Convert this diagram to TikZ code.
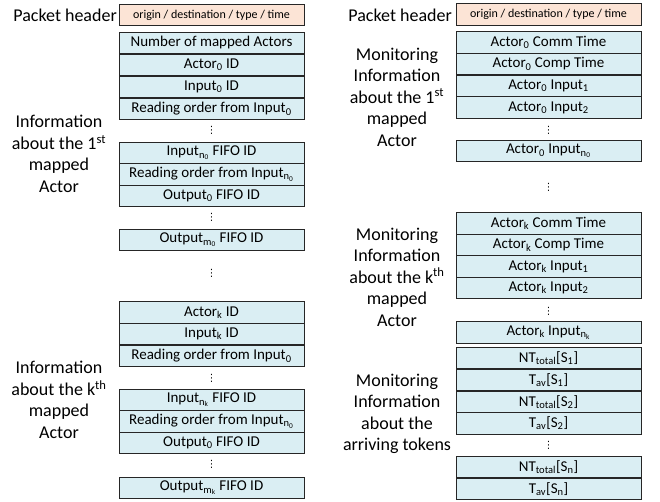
\documentclass[tikz,border=0pt]{standalone}
\usepackage{fontspec}
\setmainfont{Carlito}
\newfontfamily\dejavu{DejaVu Sans}
\definecolor{hdrfill}{HTML}{FCE4D6}
\definecolor{rowfill}{HTML}{DAEEF3}
\definecolor{edge}{HTML}{262626}
\newcommand{\sbs}[1]{\textsubscript{#1}}
\newcommand{\vdts}{{\dejavu ⋮}}
\begin{document}
\begin{tikzpicture}[x=1pt,y=-1pt,
  rowbox/.style={draw=edge, line width=0.9pt, fill=rowfill, minimum width=185pt, minimum height=21.7pt, inner sep=0pt, font=\fontsize{15}{17}\selectfont},
  hdrbox/.style={draw=edge, line width=0.9pt, fill=hdrfill, minimum width=185pt, minimum height=21.5pt, inner sep=0pt, font=\fontsize{12}{14}\selectfont},
  lbl/.style={align=center, inner sep=0pt, font=\fontsize{18}{21.5}\selectfont},
  vdot/.style={inner sep=0pt, font=\fontsize{10}{11}\selectfont}]
\useasboundingbox (0,0) rectangle (660,502);
\fill[white] (0,0) rectangle (660,502);
% ---------- left column ----------
\def\xl{211.5}
\node[lbl, anchor=east] (phL) at (117,15) {Packet header};
\node[hdrbox] (hL) at (\xl,15) {origin / destination / type / time};
\node[rowbox] (L1) at (\xl,43) {Number of mapped Actors};
\node[rowbox] (L2) at (\xl,65) {Actor\sbs{0} ID};
\node[rowbox] (L3) at (\xl,87) {Input\sbs{0} ID};
\node[rowbox] (L4) at (\xl,109) {Reading order from Input\sbs{0}};
\node[vdot] (dL1) at (\xl,130) {\vdts};
\node[rowbox] (L5) at (\xl,153) {Input\sbs{n\sbs{0}} FIFO ID};
\node[rowbox] (L6) at (\xl,174.5) {Reading order from Input\sbs{n\sbs{0}}};
\node[rowbox] (L7) at (\xl,196) {Output\sbs{0} FIFO ID};
\node[vdot] (dL2) at (\xl,217) {\vdts};
\node[rowbox] (L8) at (\xl,240) {Output\sbs{m\sbs{0}} FIFO ID};
\node[vdot] (dL3) at (\xl,273) {\vdts};
\node[rowbox] (L9) at (\xl,312.5) {Actor\sbs{k} ID};
\node[rowbox] (L10) at (\xl,334) {Input\sbs{k} ID};
\node[rowbox] (L11) at (\xl,356) {Reading order from Input\sbs{0}};
\node[vdot] (dL4) at (\xl,378) {\vdts};
\node[rowbox] (L12) at (\xl,400) {Input\sbs{n\sbs{k}} FIFO ID};
\node[rowbox] (L13) at (\xl,421.5) {Reading order from Input\sbs{n\sbs{0}}};
\node[rowbox] (L14) at (\xl,443) {Output\sbs{0} FIFO ID};
\node[vdot] (dL5) at (\xl,464) {\vdts};
\node[rowbox] (L15) at (\xl,488) {Output\sbs{m\sbs{k}} FIFO ID};
\node[lbl] (iL1) at (59,154) {Information\\about the 1\textsuperscript{st}\\mapped\\Actor};
\node[lbl] (iLk) at (59,400) {Information\\about the k\textsuperscript{th}\\mapped\\Actor};
% ---------- right column ----------
\def\xr{548.5}
\node[lbl, anchor=east] (phR) at (452,15) {Packet header};
\node[hdrbox] (hR) at (\xr,14.5) {origin / destination / type / time};
\node[rowbox] (R1) at (\xr,42.5) {Actor\sbs{0} Comm Time};
\node[rowbox] (R2) at (\xr,64) {Actor\sbs{0} Comp Time};
\node[rowbox] (R3) at (\xr,86) {Actor\sbs{0} Input\sbs{1}};
\node[rowbox] (R4) at (\xr,107.5) {Actor\sbs{0} Input\sbs{2}};
\node[vdot] (dR1) at (\xr,130) {\vdts};
\node[rowbox] (R5) at (\xr,151) {Actor\sbs{0} Input\sbs{n\sbs{0}}};
\node[vdot] (dR2) at (\xr,187) {\vdts};
\node[rowbox] (R6) at (\xr,223.5) {Actor\sbs{k} Comm Time};
\node[rowbox] (R7) at (\xr,245) {Actor\sbs{k} Comp Time};
\node[rowbox] (R8) at (\xr,266.5) {Actor\sbs{k} Input\sbs{1}};
\node[rowbox] (R9) at (\xr,288) {Actor\sbs{k} Input\sbs{2}};
\node[vdot] (dR3) at (\xr,311) {\vdts};
\node[rowbox] (R10) at (\xr,332.5) {Actor\sbs{k} Input\sbs{n\sbs{k}}};
\node[rowbox] (R11) at (\xr,358) {NT\sbs{total}[S\sbs{1}]};
\node[rowbox] (R12) at (\xr,380) {T\sbs{av}[S\sbs{1}]};
\node[rowbox] (R13) at (\xr,402) {NT\sbs{total}[S\sbs{2}]};
\node[rowbox] (R14) at (\xr,423.5) {T\sbs{av}[S\sbs{2}]};
\node[vdot] (dR4) at (\xr,445) {\vdts};
\node[rowbox] (R15) at (\xr,467) {NT\sbs{total}[S\sbs{n}]};
\node[rowbox] (R16) at (\xr,489) {T\sbs{av}[S\sbs{n}]};
\node[lbl] (iR1) at (397,97) {Monitoring\\Information\\about the 1\textsuperscript{st}\\mapped\\Actor};
\node[lbl] (iRk) at (397,277) {Monitoring\\Information\\about the k\textsuperscript{th}\\mapped\\Actor};
\node[lbl] (iRt) at (397,414) {Monitoring\\Information\\about the\\arriving tokens};
\end{tikzpicture}
\end{document}
